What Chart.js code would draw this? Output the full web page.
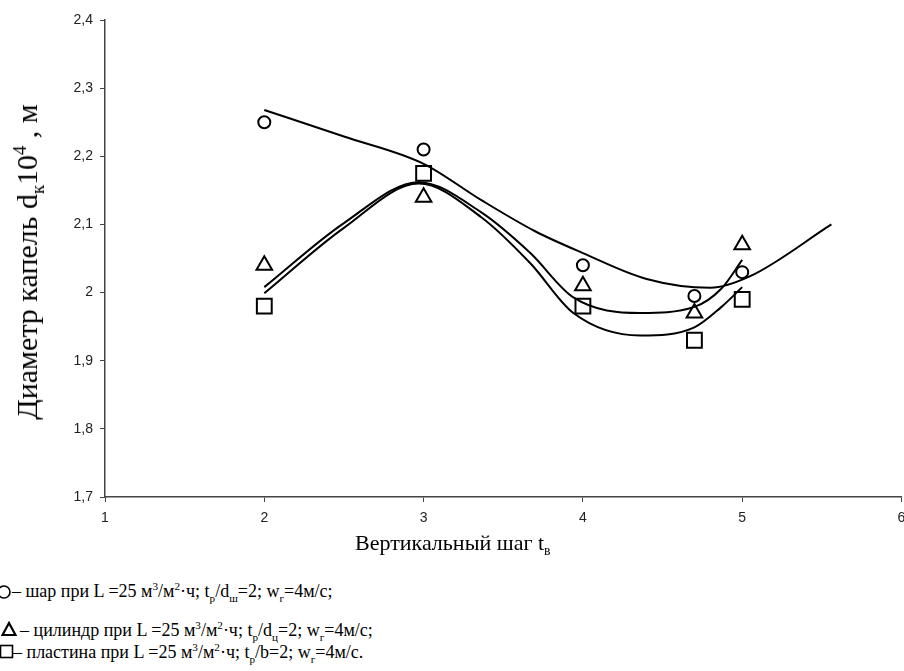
<!DOCTYPE html>
<html>
<head>
<meta charset="utf-8">
<script src="https://cdn.jsdelivr.net/npm/chart.js@4.4.1/dist/chart.umd.min.js"></script>
<style>
  body { margin: 0; background: #fff; width: 904px; height: 671px; overflow: hidden; position: relative; }
  #wrap { position: absolute; left: 0; top: 0; width: 914px; height: 560px; }
  .serif { font-family: "Liberation Serif", "Times New Roman", serif; color: #000; position: absolute; white-space: nowrap; }
  .serif sub, .serif sup { font-size: 0.62em; line-height: 0; }
  #ytitle { font-size: 30px; left: 27px; top: 262px; transform: translate(-50%, -50%) rotate(-90deg); }
  #xtitle { font-size: 22px; left: 355px; top: 530px; }
  .leg { font-size: 18px; line-height: 22px; }
  .sym { position: absolute; }
</style>
</head>
<body>
<div id="wrap"><canvas id="chart" width="914" height="560"></canvas></div>

<div id="ytitle" class="serif">Диаметр капель d<sub>к</sub>10<sup>4</sup> , м</div>
<div id="xtitle" class="serif">Вертикальный шаг t<sub>в</sub></div>

<svg class="sym" style="left:-4px;top:584px" width="16" height="16"><circle cx="8" cy="8" r="6" fill="none" stroke="#000" stroke-width="1.6"/></svg>
<div class="serif leg" style="left:12px;top:580px">– шар при L =25 м<sup>3</sup>/м<sup>2</sup>·ч; t<sub>р</sub>/d<sub>ш</sub>=2; w<sub>г</sub>=4м/с;</div>

<svg class="sym" style="left:1px;top:621px" width="16" height="16"><polygon points="8,2 14.5,14 1.5,14" fill="none" stroke="#000" stroke-width="2.2"/></svg>
<div class="serif leg" style="left:20px;top:619px">– цилиндр при L =25 м<sup>3</sup>/м<sup>2</sup>·ч; t<sub>р</sub>/d<sub>ц</sub>=2; w<sub>г</sub>=4м/с;</div>

<svg class="sym" style="left:-1px;top:644px" width="16" height="16"><rect x="1.5" y="1.5" width="12" height="12" fill="none" stroke="#000" stroke-width="1.6"/></svg>
<div class="serif leg" style="left:13px;top:641px">– пластина при L =25 м<sup>3</sup>/м<sup>2</sup>·ч; t<sub>р</sub>/b=2; w<sub>г</sub>=4м/с.</div>

<script>
// measured points
const stepX = [2, 3, 4, 4.7, 5];
const sphere = [2.25, 2.21, 2.04, 1.995, 2.03];
const cylinder = [2.04, 2.14, 2.01, 1.97, 2.07];
const plate = [1.98, 2.175, 1.98, 1.93, 1.99];

// trend curves
const sphereFitX = [2, 2.5, 3, 3.36, 3.7, 4, 4.4, 4.8, 5.05, 5.56];
const sphereFitY = [2.268, 2.229, 2.189, 2.136, 2.09, 2.058, 2.02, 2.007, 2.024, 2.1];
const pairFitX = [2, 2.5, 2.97, 3.36, 3.67, 3.94, 4.36, 4.7, 4.87, 5];
const cylinderFitY = [2.008, 2.102, 2.162, 2.118, 2.058, 1.993, 1.97, 1.979, 2.006, 2.048];
const plateFitY = [1.999, 2.095, 2.16, 2.111, 2.043, 1.97, 1.937, 1.949, 1.979, 2.008];

const yTicks = [1.7, 1.8, 1.9, 2.0, 2.1, 2.2, 2.3, 2.4];
const xTicks = [1, 2, 3, 4, 5, 6];

const pts = (xs, ys) => xs.map((x, i) => ({ x: x, y: ys[i] }));

function curve(xs, ys) {
  return {
    type: 'line',
    data: pts(xs, ys),
    borderColor: '#000',
    borderWidth: 2,
    pointRadius: 0,
    fill: false,
    cubicInterpolationMode: 'monotone'
  };
}

function marks(ys, style, r) {
  return {
    type: 'scatter',
    data: pts(stepX, ys),
    pointStyle: style,
    pointRadius: r,
    pointBackgroundColor: 'rgba(0,0,0,0)',
    pointBorderColor: '#000',
    pointBorderWidth: 2,
    showLine: false
  };
}

const tickFont = { family: 'Liberation Sans, Arial', size: 14 };

const ctx = document.getElementById('chart').getContext('2d');
new Chart(ctx, {
  data: {
    datasets: [
      curve(sphereFitX, sphereFitY),
      curve(pairFitX, cylinderFitY),
      curve(pairFitX, plateFitY),
      marks(sphere, 'circle', 6),
      marks(cylinder, 'triangle', 9),
      marks(plate, 'rect', 10.5)
    ]
  },
  options: {
    responsive: false,
    animation: false,
    layout: { padding: { top: 20, right: 4, left: 0, bottom: 0 } },
    plugins: { legend: { display: false }, tooltip: { enabled: false } },
    scales: {
      x: {
        type: 'linear',
        min: 1, max: 6,
        afterBuildTicks: s => { s.ticks = xTicks.map(v => ({ value: v })); },
        afterFit: s => { s.height = 63; },
        border: { color: '#444', width: 1.5 },
        grid: { drawOnChartArea: false, tickLength: 5, color: '#444' },
        ticks: { padding: 8, color: '#222', font: tickFont }
      },
      y: {
        min: 1.7, max: 2.4,
        afterBuildTicks: s => { s.ticks = yTicks.map(v => ({ value: v })); },
        afterFit: s => { s.width = 105; },
        border: { color: '#444', width: 1.5 },
        grid: { drawOnChartArea: false, tickLength: 5, color: '#444' },
        ticks: {
          padding: 7, color: '#222',
          font: tickFont,
          callback: v => String(Number(v.toFixed(1))).replace('.', ',')
        }
      }
    }
  }
});
</script>
</body>
</html>
